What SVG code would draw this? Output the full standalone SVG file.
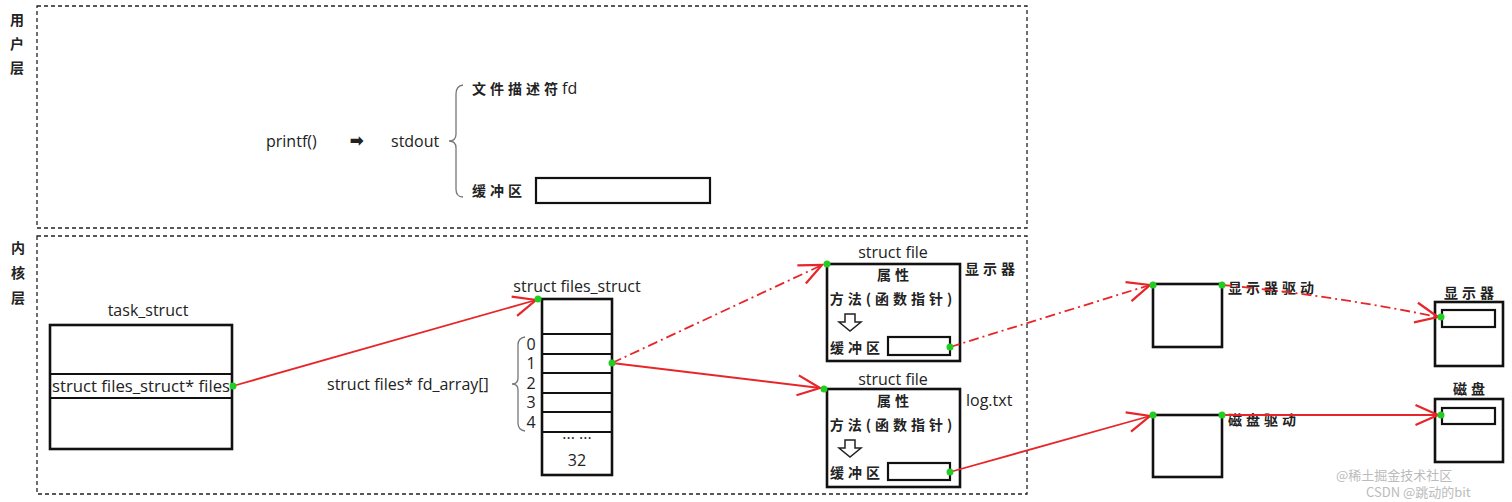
<svg xmlns="http://www.w3.org/2000/svg" width="1512" height="502" viewBox="0 0 1512 502">
<style>
.bg{fill:#fff}
.dash{fill:none;stroke:#222;stroke-width:1.3;stroke-dasharray:4 3}
.box{fill:#fff;stroke:#111;stroke-width:2.6}
.thin{fill:none;stroke:#111;stroke-width:2.2}
.t{font-family:"Open Sans","Liberation Sans",sans-serif;fill:#222;font-size:16px;letter-spacing:0}
.c{font-family:"Noto Sans CJK SC",sans-serif;fill:#222;font-size:14px;font-weight:bold;letter-spacing:4px}
.red{fill:none;stroke:#e8262a;stroke-width:1.8}
.dd{stroke-dasharray:10 4 2 4}
.dot{fill:#22cc22}
.brace{fill:none;stroke:#777;stroke-width:1.3}
.wm{font-family:"Noto Sans CJK SC",sans-serif;fill:#bbb;font-size:13px}
</style>
<defs>
<marker id="ah" markerUnits="userSpaceOnUse" markerWidth="30" markerHeight="30" refX="0" refY="0" viewBox="-20 -12 24 24" orient="auto" overflow="visible">
<path d="M-18,-8 L0,0 L-18,8" fill="none" stroke="#e8262a" stroke-width="1.8"/>
</marker>
</defs>
<rect class="bg" width="1512" height="502"/>

<g id="user-layer">
<rect class="dash" x="37" y="6" width="990" height="222"/>
<text class="c" x="19" y="25" text-anchor="middle" letter-spacing="0">用</text>
<text class="c" x="19" y="49" text-anchor="middle" letter-spacing="0">户</text>
<text class="c" x="19" y="73" text-anchor="middle" letter-spacing="0">层</text>
</g>

<g id="user-printf">
<text class="t" x="266" y="147">printf()</text>
<text class="t" x="350" y="146" font-weight="bold">➡</text>
<text class="t" x="391" y="147">stdout</text>
<path class="brace" d="M463,85 Q456,86 456,94 L456,134 Q456,141 449,141 Q456,141 456,148 L456,189 Q456,197 463,197"/>
<text class="c" x="472" y="94">文件描述符<tspan class="t" font-weight="normal">fd</tspan></text>
<text class="c" x="472" y="196">缓冲区</text>
<rect class="thin" x="536" y="178" width="174" height="25"/>
</g>

<g id="kernel-layer">
<rect class="dash" x="37" y="236" width="990" height="258"/>
<text class="c" x="20" y="253" text-anchor="middle" letter-spacing="0">内</text>
<text class="c" x="20" y="278" text-anchor="middle" letter-spacing="0">核</text>
<text class="c" x="20" y="303" text-anchor="middle" letter-spacing="0">层</text>
</g>

<g id="task_struct">
<text class="t" x="148" y="316" text-anchor="middle">task_struct</text>
<rect class="box" x="50" y="325" width="182" height="124"/>
<line class="thin" x1="50" y1="374" x2="232" y2="374"/>
<line class="thin" x1="50" y1="398" x2="232" y2="398"/>
<text class="t" x="141" y="392" text-anchor="middle" textLength="178" lengthAdjust="spacingAndGlyphs">struct files_struct* files</text>
</g>

<g id="files_struct">
<text class="t" x="577" y="292" text-anchor="middle">struct files_struct</text>
<text class="t" x="327" y="390">struct files* fd_array[]</text>
<path class="brace" d="M525,337 Q518,338 518,345 L518,378 Q518,384 512,384 Q518,384 518,390 L518,423 Q518,430 525,431"/>
<rect class="box" x="542" y="299" width="70" height="176"/>
<line class="thin" x1="542" y1="334" x2="612" y2="334"/>
<line class="thin" x1="542" y1="354" x2="612" y2="354"/>
<line class="thin" x1="542" y1="373" x2="612" y2="373"/>
<line class="thin" x1="542" y1="393" x2="612" y2="393"/>
<line class="thin" x1="542" y1="412" x2="612" y2="412"/>
<line class="thin" x1="542" y1="432" x2="612" y2="432"/>
<text class="t" x="531" y="350" text-anchor="middle" font-size="17">0</text>
<text class="t" x="531" y="369" text-anchor="middle" font-size="17">1</text>
<text class="t" x="531" y="389" text-anchor="middle" font-size="17">2</text>
<text class="t" x="531" y="408" text-anchor="middle" font-size="17">3</text>
<text class="t" x="531" y="428" text-anchor="middle" font-size="17">4</text>
<text class="t" x="577" y="444" text-anchor="middle" font-size="13">··· ···</text>
<text class="t" x="577" y="466" text-anchor="middle" font-size="17">32</text>
</g>

<g id="file-display">
<text class="t" x="893" y="258" text-anchor="middle">struct file</text>
<rect class="box" x="827" y="264" width="133" height="97"/>
<text class="c" x="895" y="280" text-anchor="middle" letter-spacing="6">属性</text>
<text class="c" x="893" y="304" text-anchor="middle" letter-spacing="3">方法(函数指针)</text>
<polygon points="845,314 855,314 855,322 861,322 850,331 839,322 845,322" fill="#fff" stroke="#222" stroke-width="1.5"/>
<text class="c" x="830" y="353" letter-spacing="3">缓冲区</text>
<rect class="thin" x="888" y="337" width="62" height="18"/>
<text class="c" x="965" y="274">显示器</text>
</g>

<g id="file-log">
<text class="t" x="893" y="385" text-anchor="middle">struct file</text>
<rect class="box" x="827" y="389" width="133" height="98"/>
<text class="c" x="895" y="406" text-anchor="middle" letter-spacing="6">属性</text>
<text class="c" x="893" y="430" text-anchor="middle" letter-spacing="3">方法(函数指针)</text>
<polygon points="845,440 855,440 855,448 861,448 850,457 839,448 845,448" fill="#fff" stroke="#222" stroke-width="1.5"/>
<text class="c" x="830" y="478" letter-spacing="3">缓冲区</text>
<rect class="thin" x="888" y="463" width="62" height="17"/>
<text class="t" x="966" y="406">log.txt</text>
</g>

<g id="driver-display">
<rect class="box" x="1153" y="284" width="69" height="63"/>
<text class="c" x="1228" y="293" font-size="13">显示器驱动</text>
</g>

<g id="driver-disk">
<rect class="box" x="1153" y="415" width="69" height="62"/>
<text class="c" x="1228" y="425" font-size="13">磁盘驱动</text>
</g>

<g id="device-display">
<text class="c" x="1471" y="298" text-anchor="middle" font-size="13">显示器</text>
<rect class="box" x="1435" y="302" width="68" height="64"/>
<rect class="thin" x="1442" y="310" width="53" height="17"/>
</g>

<g id="device-disk">
<text class="c" x="1471" y="394" text-anchor="middle" font-size="13">磁盘</text>
<rect class="box" x="1435" y="399" width="68" height="63"/>
<rect class="thin" x="1442" y="408" width="53" height="16"/>
</g>

<g id="connectors">
<line class="red" x1="233" y1="386" x2="536" y2="300" marker-end="url(#ah)"/>
<line class="red dd" x1="612" y1="363" x2="822" y2="265" marker-end="url(#ah)"/>
<line class="red" x1="612" y1="363" x2="820" y2="388" marker-end="url(#ah)"/>
<line class="red dd" x1="950" y1="347" x2="1150" y2="285" marker-end="url(#ah)"/>
<line class="red" x1="950" y1="472" x2="1150" y2="416" marker-end="url(#ah)"/>
<path class="red dd" d="M1222,285 Q1330,295 1438,317" marker-end="url(#ah)"/>
<line class="red" x1="1222" y1="415" x2="1438" y2="415" marker-end="url(#ah)"/>
<circle class="dot" cx="233" cy="386" r="3.5"/>
<circle class="dot" cx="538" cy="299" r="3.5"/>
<circle class="dot" cx="612" cy="363" r="3.5"/>
<circle class="dot" cx="827" cy="264" r="3.5"/>
<circle class="dot" cx="824" cy="389" r="3.5"/>
<circle class="dot" cx="950" cy="347" r="3.5"/>
<circle class="dot" cx="950" cy="472" r="3.5"/>
<circle class="dot" cx="1153" cy="285" r="3.5"/>
<circle class="dot" cx="1222" cy="285" r="3.5"/>
<circle class="dot" cx="1153" cy="415" r="3.5"/>
<circle class="dot" cx="1222" cy="415" r="3.5"/>
<circle class="dot" cx="1441" cy="317" r="3.5"/>
<circle class="dot" cx="1441" cy="415" r="3.5"/>
</g>

<g id="watermark">
<text class="wm" x="1336" y="480">@稀土掘金技术社区</text>
<text class="wm" x="1366" y="497">CSDN @跳动的bit</text>
</g>
</svg>
